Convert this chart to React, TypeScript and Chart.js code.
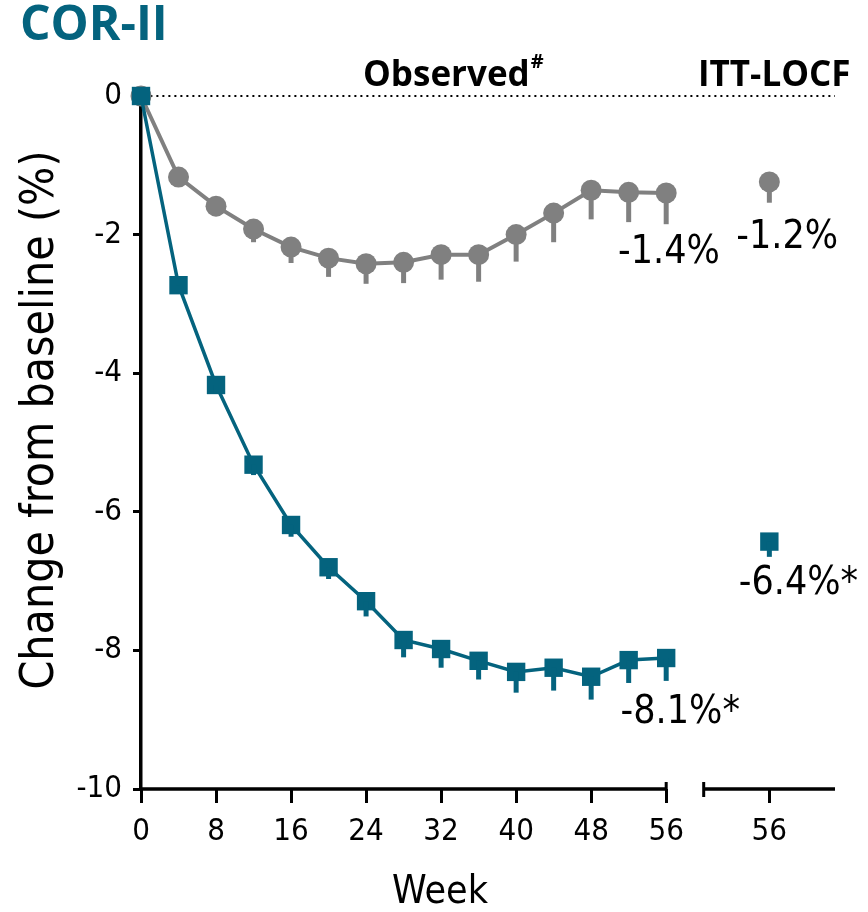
import React, { useEffect, useRef } from "react";
import { Chart, registerables } from "chart.js";

Chart.register(...registerables);

// ---- data ----
const weeks = [0, 4, 8, 12, 16, 20, 24, 28, 32, 36, 40, 44, 48, 52, 56];
const placeboMean = [0, -1.17, -1.59, -1.92, -2.18, -2.34, -2.42, -2.4, -2.29, -2.29, -2.0, -1.69, -1.36, -1.39, -1.4];
const placeboErr = [0, 0.1, 0.14, 0.19, 0.23, 0.27, 0.29, 0.3, 0.36, 0.39, 0.39, 0.42, 0.42, 0.43, 0.45];
const treatMean = [0, -2.73, -4.17, -5.32, -6.19, -6.8, -7.29, -7.85, -7.98, -8.15, -8.31, -8.25, -8.38, -8.14, -8.11];
const treatErr = [0, 0.1, 0.12, 0.15, 0.17, 0.17, 0.22, 0.25, 0.27, 0.27, 0.3, 0.33, 0.33, 0.33, 0.33];
const ittX = 67; // plotted position of the ITT-LOCF week-56 column
const ittPlacebo = -1.24;
const ittPlaceboErr = 0.3;
const ittTreat = -6.43;
const ittTreatErr = 0.22;
const xTickValues = [0, 8, 16, 24, 32, 40, 48, 56, 67];
const xTickLabels = ["0", "8", "16", "24", "32", "40", "48", "56", "56"];
const valueLabels = ["-1.4%", "-1.2%", "-6.4%*", "-8.1%*"];

const TEAL = "#04637e";
const GRAY = "#808080";
const NUM_FONT = "'DejaVu Sans Condensed', 'DejaVu Sans', sans-serif";
const BOLD_FONT = "'Open Sans', Lato, sans-serif";

const overlayPlugin = {
  id: "overlay",
  beforeDatasetsDraw(chart: any) {
    const { ctx, scales } = chart;
    const x = scales.x, y = scales.y;
    const y0 = y.getPixelForValue(0);
    ctx.save();
    ctx.strokeStyle = "#000";
    ctx.lineWidth = 2;
    ctx.setLineDash([2, 4]);
    ctx.beginPath();
    ctx.moveTo(x.getPixelForValue(1), y0);
    ctx.lineTo(x.getPixelForValue(74), y0);
    ctx.stroke();
    ctx.restore();
  },
  afterDatasetsDraw(chart: any) {
    const { ctx, scales, chartArea } = chart;
    const x = scales.x, y = scales.y;
    ctx.save();
    ctx.lineCap = "butt";
    const bar = (xv: number, v: number, e: number, color: string) => {
      if (!e) return;
      ctx.strokeStyle = color;
      ctx.lineWidth = 5;
      ctx.beginPath();
      ctx.moveTo(x.getPixelForValue(xv), y.getPixelForValue(v));
      ctx.lineTo(x.getPixelForValue(xv), y.getPixelForValue(v - e));
      ctx.stroke();
    };
    weeks.forEach((w, i) => {
      bar(w, placeboMean[i], placeboErr[i], GRAY);
      bar(w, treatMean[i], treatErr[i], TEAL);
    });
    bar(ittX, ittPlacebo, ittPlaceboErr, GRAY);
    bar(ittX, ittTreat, ittTreatErr, TEAL);

    // broken x axis
    const b = chartArea.bottom;
    ctx.strokeStyle = "#000";
    ctx.lineWidth = 3.5;
    ctx.beginPath();
    ctx.moveTo(x.getPixelForValue(0) - 1.5, b);
    ctx.lineTo(x.getPixelForValue(56), b);
    ctx.moveTo(x.getPixelForValue(60), b);
    ctx.lineTo(x.getPixelForValue(74), b);
    ctx.stroke();
    ctx.lineWidth = 3;
    ctx.beginPath();
    ctx.moveTo(x.getPixelForValue(56), b - 7);
    ctx.lineTo(x.getPixelForValue(56), b);
    ctx.moveTo(x.getPixelForValue(60), b - 7);
    ctx.lineTo(x.getPixelForValue(60), b + 8);
    ctx.stroke();

    // value labels
    ctx.fillStyle = "#000";
    ctx.font = `39px ${NUM_FONT}`;
    ctx.textAlign = "center";
    ctx.textBaseline = "middle";
    const pos = [
      [56.3, -2.27],
      [68.9, -2.05],
      [70.1, -7.04],
      [57.5, -8.9],
    ];
    valueLabels.forEach((t, i) => {
      ctx.fillText(t, x.getPixelForValue(pos[i][0]), y.getPixelForValue(pos[i][1]));
    });

    // x axis title
    ctx.font = `39px ${NUM_FONT}`;
    ctx.textBaseline = "alphabetic";
    ctx.fillText("Week", 440, 903);

    // y axis title
    ctx.save();
    ctx.translate(41, 420);
    ctx.rotate(-Math.PI / 2);
    ctx.font = `46px ${NUM_FONT}`;
    ctx.textBaseline = "middle";
    ctx.fillText("Change from baseline (%)", 0, 0);
    ctx.restore();

    // headings
    ctx.fillStyle = TEAL;
    ctx.font = `bold 48px ${BOLD_FONT}`;
    ctx.textAlign = "left";
    ctx.fillText("COR-II", 20, 40);
    ctx.fillStyle = "#000";
    ctx.font = `bold 35px ${BOLD_FONT}`;
    ctx.fillText("Observed", 363, 86);
    const ow = ctx.measureText("Observed").width;
    ctx.font = `bold 20px ${BOLD_FONT}`;
    ctx.fillText("#", 363 + ow + 1, 68);
    ctx.font = `bold 35px ${BOLD_FONT}`;
    ctx.fillText("ITT-LOCF", 698, 86);
    ctx.restore();
  },
};

export default function App() {
  const ref = useRef<HTMLCanvasElement>(null);
  useEffect(() => {
    if (!ref.current) return;
    const pts = (ys: number[]) => weeks.map((w, i) => ({ x: w, y: ys[i] }));
    const chart = new Chart(ref.current, {
      type: "scatter",
      data: {
        datasets: [
          {
            label: "Treatment observed",
            data: pts(treatMean),
            showLine: true,
            borderColor: TEAL,
            borderWidth: 3.5,
            backgroundColor: TEAL,
            pointStyle: "rect",
            pointRadius: 13,
            pointBorderWidth: 0,
            clip: false,
          } as any,
          {
            label: "Treatment ITT",
            data: [{ x: ittX, y: ittTreat }],
            showLine: false,
            backgroundColor: TEAL,
            borderColor: TEAL,
            pointStyle: "rect",
            pointRadius: 13,
            pointBorderWidth: 0,
            clip: false,
          } as any,
          {
            label: "Placebo observed",
            data: pts(placeboMean),
            showLine: true,
            borderColor: GRAY,
            borderWidth: 4,
            backgroundColor: GRAY,
            pointStyle: "circle",
            pointRadius: 10.5,
            pointBorderWidth: 0,
            clip: false,
          } as any,
          {
            label: "Placebo ITT",
            data: [{ x: ittX, y: ittPlacebo }],
            showLine: false,
            backgroundColor: GRAY,
            borderColor: GRAY,
            pointStyle: "circle",
            pointRadius: 10.5,
            pointBorderWidth: 0,
            clip: false,
          } as any,
        ],
      },
      options: {
        animation: false,
        responsive: false,
        maintainAspectRatio: false,
        layout: { padding: { top: 96, right: 33, left: 0, bottom: 0 } },
        plugins: { legend: { display: false }, tooltip: { enabled: false } },
        scales: {
          x: {
            type: "linear",
            min: 0,
            max: 74,
            afterBuildTicks: (scale: any) => {
              scale.ticks = xTickValues.map((v) => ({ value: v }));
            },
            afterFit: (scale: any) => {
              scale.height = 123;
            },
            ticks: {
              autoSkip: false,
              maxRotation: 0,
              color: "#000",
              font: { family: NUM_FONT, size: 31 },
              padding: 10,
              callback: (v: any) => {
                const i = xTickValues.indexOf(Number(v));
                return i >= 0 ? xTickLabels[i] : "";
              },
            },
            grid: { drawOnChartArea: false, drawTicks: true, tickLength: 14, lineWidth: 3, color: "#000" },
            border: { display: false },
            title: { display: false },
          },
          y: {
            type: "linear",
            min: -10,
            max: 0,
            afterFit: (scale: any) => {
              scale.width = 141;
            },
            ticks: {
              stepSize: 2,
              color: "#000",
              font: { family: NUM_FONT, size: 31 },
              padding: 11,
              callback: (v: any) => String(v),
            },
            grid: { drawOnChartArea: false, drawTicks: true, tickLength: 8, lineWidth: 3, color: "#000" },
            border: { display: true, width: 3.5, color: "#000" },
            title: { display: false },
          },
        },
      },
      plugins: [overlayPlugin],
    } as any);
    return () => chart.destroy();
  }, []);
  return (
    <div style={{ position: "fixed", left: 0, top: 0, width: 868, height: 912, background: "#fff" }}>
      <canvas ref={ref} width={868} height={912} style={{ width: 868, height: 912 }} />
    </div>
  );
}
